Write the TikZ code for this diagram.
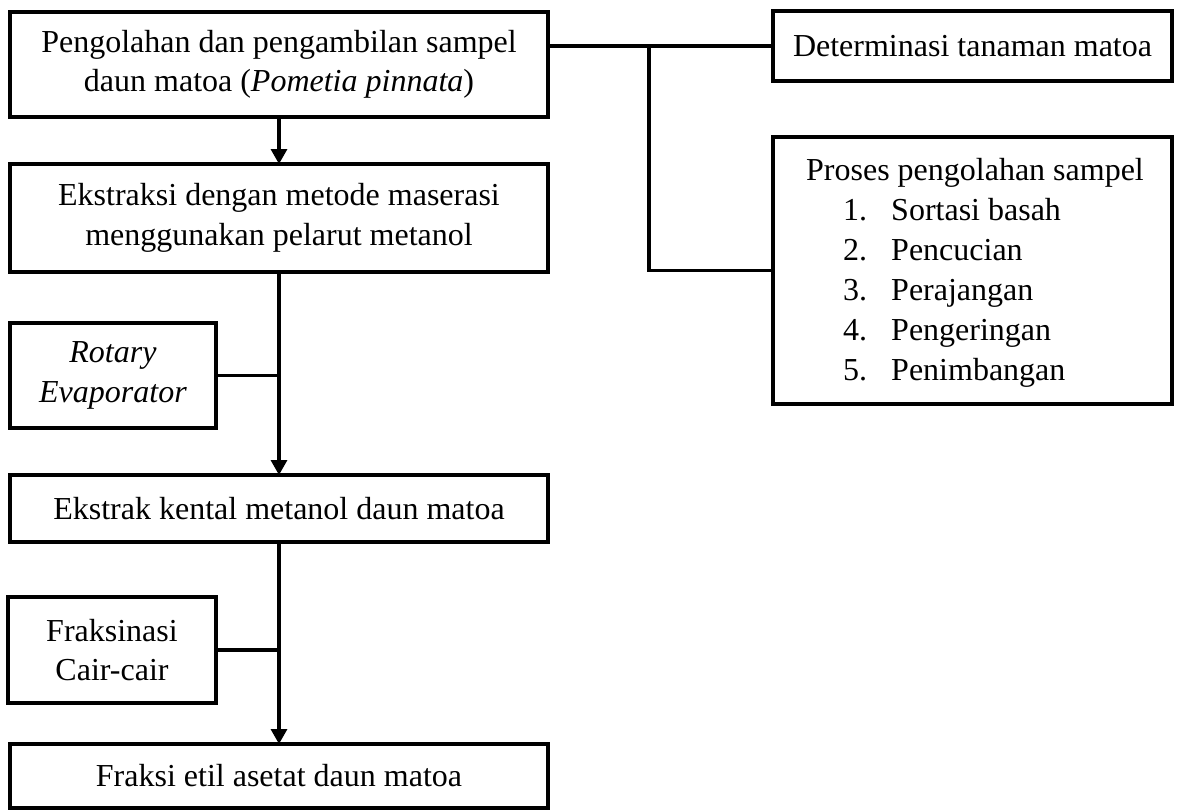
\documentclass[tikz,border=0pt]{standalone}
\usepackage{fontspec}
\setmainfont{Liberation Serif}
\usetikzlibrary{arrows.meta}
\begin{document}
\begin{tikzpicture}[x=1pt,y=-1pt,
  box/.style={draw=black,line width=4pt,inner sep=0pt,outer sep=0pt,align=center,
    font=\fontsize{32}{39.5}\selectfont},
  txt/.style={inner sep=0pt,font=\fontsize{32}{39.5}\selectfont},
  conn/.style={draw=black,line width=3.3pt},
  arr/.style={conn,-{Triangle[width=16pt,length=15pt]}}]
\useasboundingbox (0,0) rectangle (1182,811);
\node[box,minimum width=538pt,minimum height=105pt] (b1) at (279,64.5)
  {Pengolahan dan pengambilan sampel\\daun matoa (\textit{Pometia pinnata})};
\node[box,minimum width=538pt,minimum height=108pt] (b2) at (279,218)
  {Ekstraksi dengan metode maserasi\\menggunakan pelarut metanol};
\node[box,minimum width=206pt,minimum height=105pt] (rot) at (113,375.5)
  {\textit{Rotary}\\\textit{Evaporator}};
\node[box,minimum width=538pt,minimum height=67pt] (b4) at (279,508.5)
  {Ekstrak kental metanol daun matoa};
\node[box,minimum width=208pt,minimum height=106pt] (fr) at (112,650)
  {Fraksinasi\\Cair-cair};
\node[box,minimum width=538pt,minimum height=64pt] (b6) at (279,776)
  {Fraksi etil asetat daun matoa};
\node[box,minimum width=399pt,minimum height=70pt] (det) at (972.5,46)
  {Determinasi tanaman matoa};
\node[box,minimum width=399pt,minimum height=267pt] (proc) at (972.5,270.5) {};
\node[txt,anchor=base] (pt) at (975,180) {Proses pengolahan sampel};
\node[txt,anchor=base west] (n1) at (843,220) {1.};
\node[txt,anchor=base west] (n2) at (843,260) {2.};
\node[txt,anchor=base west] (n3) at (843,300) {3.};
\node[txt,anchor=base west] (n4) at (843,340) {4.};
\node[txt,anchor=base west] (n5) at (843,380) {5.};
\node[txt,anchor=base west] (i1) at (891,220) {Sortasi basah};
\node[txt,anchor=base west] (i2) at (891,260) {Pencucian};
\node[txt,anchor=base west] (i3) at (891,300) {Perajangan};
\node[txt,anchor=base west] (i4) at (891,340) {Pengeringan};
\node[txt,anchor=base west] (i5) at (891,380) {Penimbangan};
\coordinate (j) at (649,46);
\draw[arr] (b1.south) -- (b2.north);
\draw[arr] (b2.south) -- (b4.north);
\draw[arr] (b4.south) -- (b6.north);
\draw[conn] (rot.east) -- (rot.east -| b2.south);
\draw[conn] (fr.east) -- (fr.east -| b4.south);
\draw[conn] (det.west -| b1.east) -- (det.west);
\draw[conn] (j) |- (proc.west);
\end{tikzpicture}
\end{document}
